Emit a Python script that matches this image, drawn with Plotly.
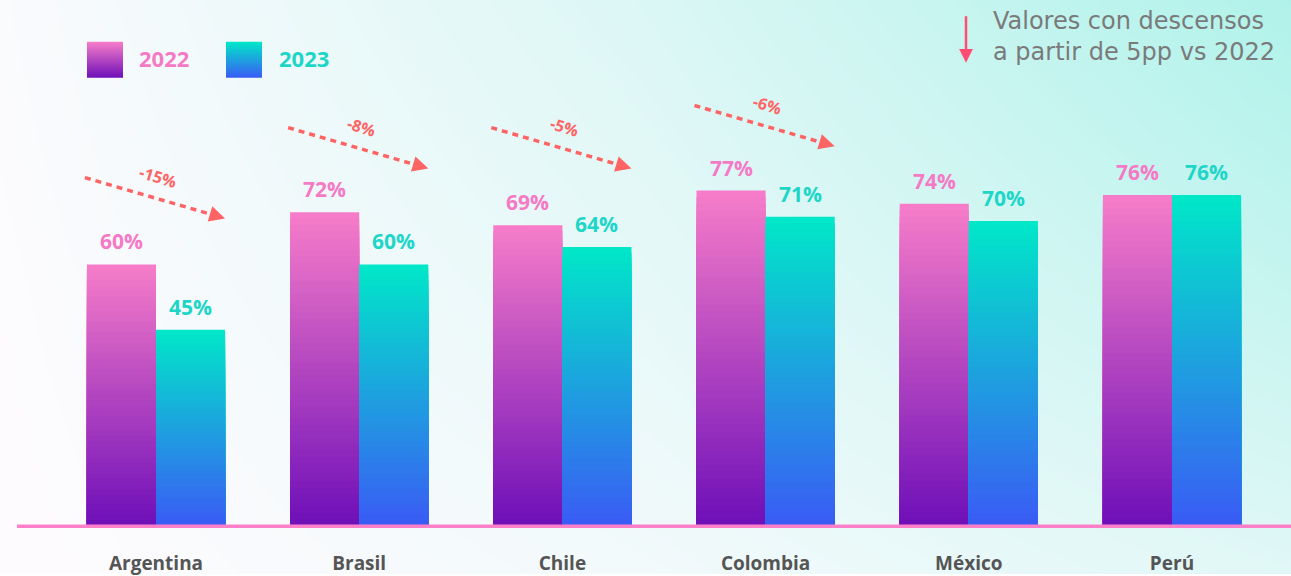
import plotly.graph_objects as go

# ---------------- data ----------------
countries = ["Argentina", "Brasil", "Chile", "Colombia", "México", "Perú"]
v2022 = [60, 72, 69, 77, 74, 76]
v2023 = [45, 60, 64, 71, 70, 76]
series_names = ["2022", "2023"]
drop_countries = ["Argentina", "Brasil", "Chile", "Colombia"]
drop_labels = ["-15%", "-8%", "-5%", "-6%"]
note_text = "Valores con descensos<br>a partir de 5pp vs 2022"

# ---------------- layout / style constants ----------------
W, H = 1291, 576
PX_PER_UNIT = 4.36
BASE_PX = 527
Y_PAD = 4          # axis units below zero, so the baseline is not clipped
CAT_PX = 203.2
FIRST_CENTER_PX = 156
arrow_y_start = [80.0, 91.5, 91.5, 96.6]   # arrow positions (axis units)
ARROW_DROP = 9.4

grad_2022 = ("#6E0FB8", "#F77DC9")   # bottom, top
grad_2023 = ("#3A5BF5", "#00E8C8")
label_col = {"2022": "#F57AC6", "2023": "#1ED6C8"}
ARROW_COL = "#FF6464"
FONT = "Open Sans"
NOTE_FONT = "DejaVu Sans"
N_LEVELS = 50


def hex2rgb(h):
    h = h.lstrip("#")
    return tuple(int(h[i:i + 2], 16) for i in (0, 2, 4))


def mix(c0, c1, t):
    a, b = hex2rgb(c0), hex2rgb(c1)
    return "rgb(%d,%d,%d)" % tuple(round(a[i] + (b[i] - a[i]) * t) for i in range(3))


fig = go.Figure()

# background gradient (base axes x/y, full page)
fig.add_trace(go.Heatmap(
    x=[0, 0.5, 1], y=[0, 0.5, 1],
    z=[[0.0, 0.15, 0.38], [0.02, 0.30, 0.72], [0.05, 0.45, 1.0]],
    zmin=0, zmax=1, zsmooth="best", showscale=False, hoverinfo="skip",
    colorscale=[[0, "#FEFBFE"], [1, "#B0F2EA"]],
    xaxis="x", yaxis="y",
))

# legend squares with gradient
leg_boxes = [(87, 123), (226, 262)]
for (px0, px1), grad in zip(leg_boxes, [grad_2022, grad_2023]):
    x0, x1 = px0 / W, px1 / W
    y0, y1 = (H - 78) / H, (H - 42) / H
    fig.add_trace(go.Scatter(
        x=[x0, x1, x1, x0, x0], y=[y0, y0, y1, y1, y0],
        mode="lines", line=dict(width=0), fill="toself",
        fillgradient=dict(type="vertical", colorscale=[[0, grad[0]], [1, grad[1]]]),
        hoverinfo="skip", showlegend=False, xaxis="x", yaxis="y",
    ))

# gradient bars: overlaid bars of decreasing height in the same offsetgroup
for name, vals, grad in [("2022", v2022, grad_2022), ("2023", v2023, grad_2023)]:
    for k in range(N_LEVELS):
        frac = (N_LEVELS - k) / N_LEVELS
        tcol = (N_LEVELS - k - 0.5) / N_LEVELS
        fig.add_trace(go.Bar(
            x=countries, y=[v * frac for v in vals],
            offsetgroup=name, name=name,
            marker=dict(color=mix(grad[0], grad[1], tcol), line=dict(width=0)),
            showlegend=False, hoverinfo="skip",
            xaxis="x2", yaxis="y2",
        ))

annotations = []
shapes = []

# value labels
for i, (a, b) in enumerate(zip(v2022, v2023)):
    for off, v, nm in [(-0.17, a, "2022"), (0.17, b, "2023")]:
        annotations.append(dict(
            x=i + off, y=v, xref="x2", yref="y2", text=f"{v}%", showarrow=False,
            yanchor="middle", yshift=23,
            font=dict(family=FONT, size=21, color=label_col[nm], weight="bold"),
        ))

# decline arrows
for c, lab, ys in zip(drop_countries, drop_labels, arrow_y_start):
    i = countries.index(c)
    ye = ys - ARROW_DROP
    xs, xe = i - 0.35, i + 0.34
    xl = i + 0.29
    yl = ys + (ye - ys) * (xl - xs) / (xe - xs)
    shapes.append(dict(type="line", xref="x2", yref="y2", x0=xs, y0=ys, x1=xl, y1=yl,
                       line=dict(color=ARROW_COL, width=3.5, dash="6px,5px"), layer="above"))
    annotations.append(dict(x=xe, y=ye, xref="x2", yref="y2", text="", showarrow=True,
                            ax=-13, ay=-3.9, arrowhead=2, arrowsize=0.9, arrowwidth=3.5,
                            arrowcolor=ARROW_COL, standoff=0))
    annotations.append(dict(x=i, y=(ys + ye) / 2, xref="x2", yref="y2", text=lab,
                            showarrow=False, yanchor="middle", yshift=21, xshift=2,
                            textangle=17,
                            font=dict(family=FONT, size=16, color=ARROW_COL, weight="bold")))

# legend texts
for nm, px in [("2022", 137), ("2023", 277)]:
    annotations.append(dict(x=px / W, y=(H - 58) / H, xref="paper", yref="paper", text=nm,
                            showarrow=False, xanchor="left", yanchor="middle",
                            font=dict(family=FONT, size=22, color=label_col[nm], weight="bold")))

# note top right
annotations.append(dict(x=1277 / W, y=(H - 5) / H, xref="paper", yref="paper",
                        text=note_text, showarrow=False, xanchor="right", yanchor="top",
                        align="left", font=dict(family=NOTE_FONT, size=24, color="#7A7A7A")))
annotations.append(dict(x=966 / W, y=(H - 63) / H, xref="paper", yref="paper", text="",
                        showarrow=True, ax=0, ay=-48, arrowhead=2, arrowsize=1.1,
                        arrowwidth=2.5, arrowcolor="#FF4D73", standoff=0))

# baseline
shapes.append(dict(type="line", xref="paper", yref="y2", x0=17 / W, x1=1, y0=-0.25, y1=-0.25,
                   line=dict(color="#FF80C8", width=3.5), layer="above"))

fig.update_layout(
    width=W, height=H, margin=dict(l=0, r=0, t=0, b=0),
    paper_bgcolor="white", plot_bgcolor="rgba(0,0,0,0)",
    barmode="group", bargap=0.32, bargroupgap=0,
    showlegend=False,
    xaxis=dict(domain=[0, 1], range=[0, 1], visible=False, fixedrange=True),
    yaxis=dict(domain=[0, 1], range=[0, 1], visible=False, fixedrange=True),
    xaxis2=dict(domain=[0, 1], anchor="y2", type="category",
                range=[-FIRST_CENTER_PX / CAT_PX, (W - FIRST_CENTER_PX) / CAT_PX],
                showgrid=False, zeroline=False, showline=False, ticks="",
                ticklabelstandoff=int(round(24 - Y_PAD * PX_PER_UNIT)),
                tickfont=dict(family=FONT, size=19, color="#555555", weight="bold")),
    yaxis2=dict(domain=[(H - BASE_PX - Y_PAD * PX_PER_UNIT) / H, 1], anchor="x2",
                range=[-Y_PAD, BASE_PX / PX_PER_UNIT], visible=False,
                showgrid=False, zeroline=False),
    annotations=annotations, shapes=shapes,
)

fig.write_html("out.html", config={"displayModeBar": False},
               post_script="document.body.style.margin='0';document.body.style.overflow='hidden';")
